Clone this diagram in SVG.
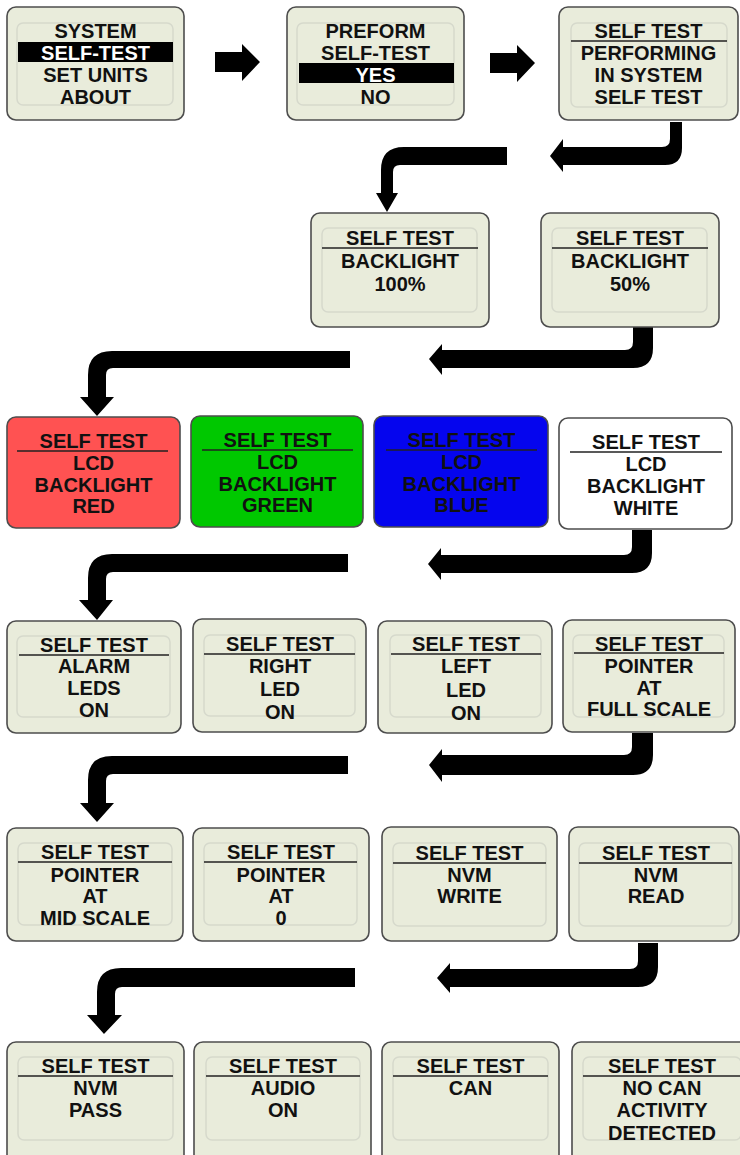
<svg xmlns="http://www.w3.org/2000/svg" width="740" height="1155" viewBox="0 0 740 1155">
<style>
.box{fill:#e9ecdb;stroke:#4d4d4d;stroke-width:1.6}
.inner{fill:none;stroke:#d6d9cc;stroke-width:1.5}
.t{font-family:"Liberation Sans",Arial,sans-serif;font-weight:bold;font-size:20px;text-anchor:middle;fill:#111}
.w{fill:#fff}
.ul{stroke:#222;stroke-width:1.5}
.band{fill:#000}
.arr{fill:#000}
</style>
<rect width="740" height="1155" fill="#fff"/>

<g id="connectors">
  <polygon class="arr" points="215,52 242,52 242,44 260,62 242,81 242,72 215,72"/>
  <polygon class="arr" points="490,53 517,53 517,45 535,63 517,82 517,73 490,73"/>
  <path class="arr" d="M670,122 H682 V148 Q682,165 665,165 H563 V172 L550,156 L563,139 V147 H662 Q670,147 670,139 Z"/>
  <path class="arr" d="M507,147 V165 H400 Q393,165 393,172 V193 H398 L387,212 L376,193 H381 V170 Q381,147 404,147 Z"/>
  <path class="arr" d="M633,327 H653 V348 Q653,368 633,368 H442 V375 L429,359 L442,344 V350 H625 Q633,350 633,342 Z"/>
  <path class="arr" d="M350,351 V368 H113 Q106,368 106,375 V397 H114 L97,416 L80,397 H88 V375 Q88,351 112,351 Z"/>
  <path class="arr" d="M632,530 H652 V553 Q652,573 632,573 H441 V580 L428,564 L441,548 V555 H624 Q632,555 632,547 Z"/>
  <path class="arr" d="M348,554 V572 H113 Q106,572 106,579 V600 H113 L97,620 L79,600 H88 V578 Q88,554 112,554 Z"/>
  <path class="arr" d="M632,733 H653 V755 Q653,775 633,775 H442 V782 L429,765 L442,749 V755 H624 Q632,755 632,747 Z"/>
  <path class="arr" d="M348,756 V774 H113 Q106,774 106,781 V803 H114 L97,822 L80,803 H88 V780 Q88,756 112,756 Z"/>
  <path class="arr" d="M638,943 H658 V967 Q658,987 638,987 H450 V993 L437,978 L450,963 V969 H630 Q638,969 638,961 Z"/>
  <path class="arr" d="M355,968 V987 H122 Q115,987 115,994 V1015 H122 L104,1034 L87,1015 H97 V992 Q97,968 121,968 Z"/>
</g>

<g id="n-system">
  <rect class="box" x="7" y="7" width="177" height="113" rx="9"/>
  <rect class="inner" x="17" y="23" width="156" height="82" rx="6"/>
  <rect class="band" x="18" y="42" width="155" height="20"/>
  <text class="t" x="95.5" y="38">SYSTEM</text>
  <text class="t w" x="95.5" y="60">SELF-TEST</text>
  <text class="t" x="95.5" y="82">SET UNITS</text>
  <text class="t" x="95.5" y="104">ABOUT</text>
</g>
<g id="n-preform">
  <rect class="box" x="287" y="7" width="177" height="113" rx="9"/>
  <rect class="inner" x="297" y="23" width="157" height="82" rx="6"/>
  <rect class="band" x="299" y="63" width="155" height="20"/>
  <text class="t" x="375.5" y="38">PREFORM</text>
  <text class="t" x="375.5" y="60">SELF-TEST</text>
  <text class="t w" x="375.5" y="82">YES</text>
  <text class="t" x="375.5" y="104">NO</text>
</g>
<g id="n-performing">
  <rect class="box" x="559" y="7" width="179" height="113" rx="9"/>
  <rect class="inner" x="571" y="23" width="156" height="84" rx="6"/>
  <line class="ul" x1="571" y1="41" x2="727" y2="41"/>
  <text class="t" x="648.5" y="38">SELF TEST</text>
  <text class="t" x="648.5" y="60">PERFORMING</text>
  <text class="t" x="648.5" y="82">IN SYSTEM</text>
  <text class="t" x="648.5" y="104">SELF TEST</text>
</g>

<g id="n-bl100">
  <rect class="box" x="311" y="213" width="178" height="114" rx="9"/>
  <rect class="inner" x="322" y="228" width="155" height="84" rx="6"/>
  <line class="ul" x1="322" y1="248" x2="478" y2="248"/>
  <text class="t" x="400" y="245">SELF TEST</text>
  <text class="t" x="400" y="268">BACKLIGHT</text>
  <text class="t" x="400" y="291">100%</text>
</g>
<g id="n-bl50">
  <rect class="box" x="541" y="213" width="178" height="114" rx="9"/>
  <rect class="inner" x="552" y="228" width="155" height="84" rx="6"/>
  <line class="ul" x1="552" y1="248" x2="708" y2="248"/>
  <text class="t" x="630" y="245">SELF TEST</text>
  <text class="t" x="630" y="268">BACKLIGHT</text>
  <text class="t" x="630" y="291">50%</text>
</g>

<g id="n-red">
  <rect class="box" x="7" y="417" width="173" height="111" rx="9" style="fill:#ff5252"/>
  <line class="ul" x1="17" y1="451" x2="168" y2="451"/>
  <text class="t" x="93.5" y="448">SELF TEST</text>
  <text class="t" x="93.5" y="470">LCD</text>
  <text class="t" x="93.5" y="492">BACKLIGHT</text>
  <text class="t" x="93.5" y="513">RED</text>
</g>
<g id="n-green">
  <rect class="box" x="191" y="416" width="172" height="111" rx="9" style="fill:#00c800"/>
  <line class="ul" x1="202" y1="450" x2="353" y2="450"/>
  <text class="t" x="277.5" y="447">SELF TEST</text>
  <text class="t" x="277.5" y="469">LCD</text>
  <text class="t" x="277.5" y="491">BACKLIGHT</text>
  <text class="t" x="277.5" y="512">GREEN</text>
</g>
<g id="n-blue">
  <rect class="box" x="374" y="416" width="174" height="111" rx="9" style="fill:#0505ee"/>
  <line class="ul" x1="386" y1="450" x2="537" y2="450"/>
  <text class="t" x="461.5" y="447">SELF TEST</text>
  <text class="t" x="461.5" y="469">LCD</text>
  <text class="t" x="461.5" y="491">BACKLIGHT</text>
  <text class="t" x="461.5" y="512">BLUE</text>
</g>
<g id="n-white">
  <rect class="box" x="559" y="418" width="173" height="111" rx="9" style="fill:#fff"/>
  <line class="ul" x1="570" y1="452" x2="722" y2="452"/>
  <text class="t" x="646" y="449">SELF TEST</text>
  <text class="t" x="646" y="471">LCD</text>
  <text class="t" x="646" y="493">BACKLIGHT</text>
  <text class="t" x="646" y="515">WHITE</text>
</g>

<g id="n-alarm">
  <rect class="box" x="7" y="621" width="174" height="112" rx="9"/>
  <rect class="inner" x="17" y="636" width="153" height="81" rx="6"/>
  <line class="ul" x1="19" y1="655" x2="169" y2="655"/>
  <text class="t" x="94" y="652">SELF TEST</text>
  <text class="t" x="94" y="673">ALARM</text>
  <text class="t" x="94" y="695">LEDS</text>
  <text class="t" x="94" y="717">ON</text>
</g>
<g id="n-right">
  <rect class="box" x="193" y="619" width="173" height="113" rx="9"/>
  <rect class="inner" x="204" y="635" width="151" height="81" rx="6"/>
  <line class="ul" x1="204" y1="654" x2="355" y2="654"/>
  <text class="t" x="280" y="651">SELF TEST</text>
  <text class="t" x="280" y="673">RIGHT</text>
  <text class="t" x="280" y="696">LED</text>
  <text class="t" x="280" y="719">ON</text>
</g>
<g id="n-left">
  <rect class="box" x="378" y="621" width="174" height="112" rx="9"/>
  <rect class="inner" x="390" y="635" width="151" height="82" rx="6"/>
  <line class="ul" x1="391" y1="654" x2="541" y2="654"/>
  <text class="t" x="466" y="651">SELF TEST</text>
  <text class="t" x="466" y="673">LEFT</text>
  <text class="t" x="466" y="697">LED</text>
  <text class="t" x="466" y="720">ON</text>
</g>
<g id="n-full">
  <rect class="box" x="563" y="620" width="172" height="112" rx="9"/>
  <rect class="inner" x="573" y="635" width="151" height="82" rx="6"/>
  <line class="ul" x1="574" y1="653" x2="724" y2="653"/>
  <text class="t" x="649" y="651">SELF TEST</text>
  <text class="t" x="649" y="673">POINTER</text>
  <text class="t" x="649" y="695">AT</text>
  <text class="t" x="649" y="716">FULL SCALE</text>
</g>

<g id="n-mid">
  <rect class="box" x="7" y="828" width="176" height="113" rx="9"/>
  <rect class="inner" x="18" y="843" width="154" height="82" rx="6"/>
  <line class="ul" x1="18" y1="862" x2="172" y2="862"/>
  <text class="t" x="95" y="859">SELF TEST</text>
  <text class="t" x="95" y="882">POINTER</text>
  <text class="t" x="95" y="903">AT</text>
  <text class="t" x="95" y="925">MID SCALE</text>
</g>
<g id="n-zero">
  <rect class="box" x="193" y="828" width="176" height="113" rx="9"/>
  <rect class="inner" x="204" y="843" width="153" height="82" rx="6"/>
  <line class="ul" x1="204" y1="862" x2="357" y2="862"/>
  <text class="t" x="281" y="859">SELF TEST</text>
  <text class="t" x="281" y="882">POINTER</text>
  <text class="t" x="281" y="903">AT</text>
  <text class="t" x="281" y="925">0</text>
</g>
<g id="n-write">
  <rect class="box" x="382" y="827" width="175" height="114" rx="9"/>
  <rect class="inner" x="393" y="843" width="153" height="83" rx="6"/>
  <line class="ul" x1="393" y1="863" x2="546" y2="863"/>
  <text class="t" x="469.5" y="860">SELF TEST</text>
  <text class="t" x="469.5" y="882">NVM</text>
  <text class="t" x="469.5" y="903">WRITE</text>
</g>
<g id="n-read">
  <rect class="box" x="569" y="827" width="170" height="114" rx="9"/>
  <rect class="inner" x="579" y="843" width="153" height="83" rx="6"/>
  <line class="ul" x1="579" y1="863" x2="732" y2="863"/>
  <text class="t" x="656" y="860">SELF TEST</text>
  <text class="t" x="656" y="882">NVM</text>
  <text class="t" x="656" y="903">READ</text>
</g>

<g id="n-pass">
  <rect class="box" x="7" y="1042" width="177" height="125" rx="9"/>
  <rect class="inner" x="18" y="1057" width="155" height="83" rx="6"/>
  <line class="ul" x1="18" y1="1076" x2="173" y2="1076"/>
  <text class="t" x="95.5" y="1073">SELF TEST</text>
  <text class="t" x="95.5" y="1095">NVM</text>
  <text class="t" x="95.5" y="1117">PASS</text>
</g>
<g id="n-audio">
  <rect class="box" x="194" y="1042" width="177" height="125" rx="9"/>
  <rect class="inner" x="206" y="1057" width="154" height="83" rx="6"/>
  <line class="ul" x1="206" y1="1076" x2="360" y2="1076"/>
  <text class="t" x="283" y="1073">SELF TEST</text>
  <text class="t" x="283" y="1095">AUDIO</text>
  <text class="t" x="283" y="1117">ON</text>
</g>
<g id="n-can">
  <rect class="box" x="382" y="1042" width="177" height="125" rx="9"/>
  <rect class="inner" x="393" y="1057" width="155" height="83" rx="6"/>
  <line class="ul" x1="393" y1="1076" x2="548" y2="1076"/>
  <text class="t" x="470.5" y="1073">SELF TEST</text>
  <text class="t" x="470.5" y="1095">CAN</text>
</g>
<g id="n-nocan">
  <rect class="box" x="572" y="1042" width="180" height="125" rx="9"/>
  <rect class="inner" x="583" y="1057" width="158" height="83" rx="6"/>
  <line class="ul" x1="583" y1="1076" x2="742" y2="1076"/>
  <text class="t" x="662" y="1073">SELF TEST</text>
  <text class="t" x="662" y="1095">NO CAN</text>
  <text class="t" x="662" y="1117">ACTIVITY</text>
  <text class="t" x="662" y="1140">DETECTED</text>
</g>
</svg>
